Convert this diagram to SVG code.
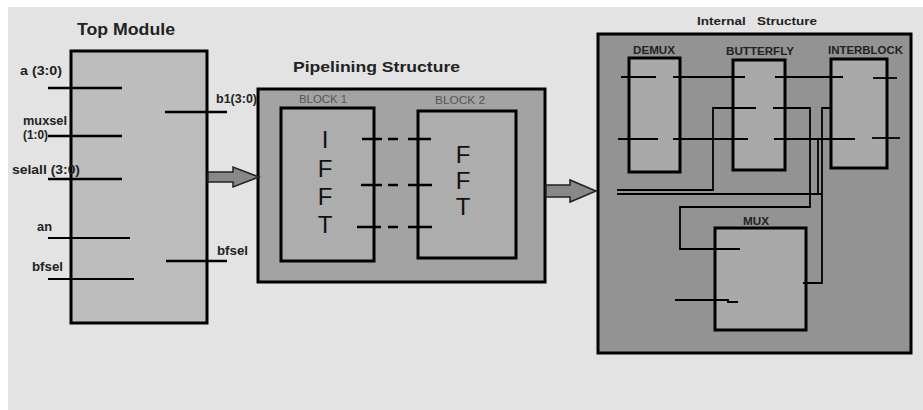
<svg xmlns="http://www.w3.org/2000/svg" width="923" height="410" viewBox="0 0 923 410">
<style>
.box{stroke:#000;stroke-width:3}
.w{stroke:#000;stroke-width:2.5;fill:none}
.t{stroke:#000;stroke-width:1.8;fill:none}
.lbl{font-family:"Liberation Sans",Arial,sans-serif;font-weight:bold;fill:#222}
.big{font-family:"Liberation Sans",Arial,sans-serif;font-size:24px;fill:#111}
.blk{font-family:"Liberation Sans",Arial,sans-serif;font-size:11px;fill:#555}
.arrow{fill:#888;stroke:#222;stroke-width:1.5}
</style>
<rect width="923" height="410" fill="#fff"/>
<rect x="8" y="7" width="915" height="403" fill="#e3e3e3"/>

<g id="top-module">
<text class="lbl" x="77" y="35" font-size="16" textLength="98" lengthAdjust="spacingAndGlyphs">Top Module</text>
<rect class="box" x="71" y="51" width="136" height="272" fill="#bdbdbd" stroke-width="3.5"/>
<text class="lbl" x="20" y="75" font-size="12" textLength="42" lengthAdjust="spacingAndGlyphs">a (3:0)</text>
<line class="w" x1="48" y1="88" x2="122" y2="88"/>
<text class="lbl" x="23" y="125" font-size="12" textLength="44" lengthAdjust="spacingAndGlyphs">muxsel</text>
<text class="lbl" x="23" y="139" font-size="12" textLength="25" lengthAdjust="spacingAndGlyphs">(1:0)</text>
<line class="w" x1="48" y1="136" x2="122" y2="136"/>
<text class="lbl" x="12" y="174" font-size="12" textLength="68" lengthAdjust="spacingAndGlyphs">selall (3:0)</text>
<line class="w" x1="48" y1="179" x2="122" y2="179"/>
<text class="lbl" x="37" y="231" font-size="12" textLength="15" lengthAdjust="spacingAndGlyphs">an</text>
<line class="t" x1="48" y1="238" x2="130" y2="238"/>
<text class="lbl" x="32" y="271" font-size="12" textLength="31" lengthAdjust="spacingAndGlyphs">bfsel</text>
<line class="t" x1="48" y1="279" x2="134" y2="279"/>
<text class="lbl" x="216" y="103" font-size="12" textLength="41" lengthAdjust="spacingAndGlyphs">b1(3:0)</text>
<line class="w" x1="165" y1="112" x2="227" y2="112"/>
<text class="lbl" x="217" y="255" font-size="12" textLength="31" lengthAdjust="spacingAndGlyphs">bfsel</text>
<line class="w" x1="166" y1="261" x2="227" y2="261"/>
</g>

<g id="pipelining">
<text class="lbl" x="293" y="72" font-size="15" textLength="167" lengthAdjust="spacingAndGlyphs">Pipelining Structure</text>
<rect class="box" x="258" y="89" width="287" height="193" fill="#a3a3a3"/>
</g>
<g id="block1">
<text class="blk" x="299" y="103" textLength="48" lengthAdjust="spacingAndGlyphs">BLOCK 1</text>
<rect class="box" x="281" y="108" width="93" height="153" fill="#adadad"/>
<text class="big" x="325" y="148" text-anchor="middle">I</text>
<text class="big" x="325" y="177" text-anchor="middle">F</text>
<text class="big" x="325" y="205" text-anchor="middle">F</text>
<text class="big" x="325" y="233" text-anchor="middle">T</text>
</g>
<g id="block2">
<text class="blk" x="435" y="104" textLength="50" lengthAdjust="spacingAndGlyphs">BLOCK 2</text>
<rect class="box" x="418" y="111" width="98" height="147" fill="#adadad"/>
<text class="big" x="463" y="163" text-anchor="middle" font-size="22">F</text>
<text class="big" x="463" y="189" text-anchor="middle" font-size="22">F</text>
<text class="big" x="463" y="215" text-anchor="middle" font-size="22">T</text>
</g>

<g id="internal">
<text class="lbl" x="697" y="25" font-size="11" textLength="120" lengthAdjust="spacingAndGlyphs" xml:space="preserve">Internal   Structure</text>
<rect class="box" x="598" y="34" width="313" height="319" fill="#939393" stroke-width="3.5"/>
</g>
<g id="demux">
<text class="lbl" x="633" y="54" font-size="10" textLength="42" lengthAdjust="spacingAndGlyphs">DEMUX</text>
<rect class="box" x="629" y="58" width="51" height="114" fill="#a9a9a9"/>
</g>
<g id="butterfly">
<text class="lbl" x="726" y="55" font-size="10" textLength="68" lengthAdjust="spacingAndGlyphs">BUTTERFLY</text>
<rect class="box" x="733" y="60" width="52" height="110" fill="#a9a9a9"/>
</g>
<g id="interblock">
<text class="lbl" x="828" y="54" font-size="10" textLength="75" lengthAdjust="spacingAndGlyphs">INTERBLOCK</text>
<rect class="box" x="831" y="59" width="56" height="109" fill="#a9a9a9"/>
</g>
<g id="mux">
<text class="lbl" x="743" y="225" font-size="10" textLength="26" lengthAdjust="spacingAndGlyphs">MUX</text>
<rect class="box" x="715" y="228" width="91" height="102" fill="#a9a9a9"/>
</g>

<g id="connectors">
<path class="arrow" d="M208 172 H233 V167 L259 177 L233 187 V182 H208 Z"/>
<path class="arrow" d="M546 185 H570 V180 L596 191 L570 202 V197 H546 Z"/>
<g class="w">
<line x1="362" y1="139" x2="382" y2="139"/><line x1="388" y1="139" x2="398" y2="139"/><line x1="408" y1="139" x2="431" y2="139"/>
<line x1="361" y1="185" x2="382" y2="185"/><line x1="388" y1="185" x2="398" y2="185"/><line x1="408" y1="185" x2="432" y2="185"/>
<line x1="357" y1="227" x2="381" y2="227"/><line x1="388" y1="227" x2="398" y2="227"/><line x1="408" y1="227" x2="432" y2="227"/>
</g>
<g class="t" stroke-width="2.2">
<line x1="621" y1="77" x2="656" y2="77"/>
<line x1="673" y1="77" x2="745" y2="77"/>
<line x1="775" y1="77" x2="843" y2="77"/>
<line x1="873" y1="78" x2="897" y2="78"/>
<line x1="618" y1="139" x2="658" y2="139"/>
<line x1="673" y1="139" x2="748" y2="139"/>
<line x1="774" y1="139" x2="855" y2="139"/>
<line x1="872" y1="138" x2="900" y2="138"/>
<polyline points="756,108 713,108 713,190 617,190"/>
<polyline points="617,194 822,194"/>
<polyline points="818,139 818,194"/>
<polyline points="830,108 822,108 822,283 803,283"/>
<polyline points="773,108 810,108 810,207 680,207 680,249 740,249"/>
<polyline points="675,300 728,300 728,302 738,302"/>
</g>
</g>
</svg>
